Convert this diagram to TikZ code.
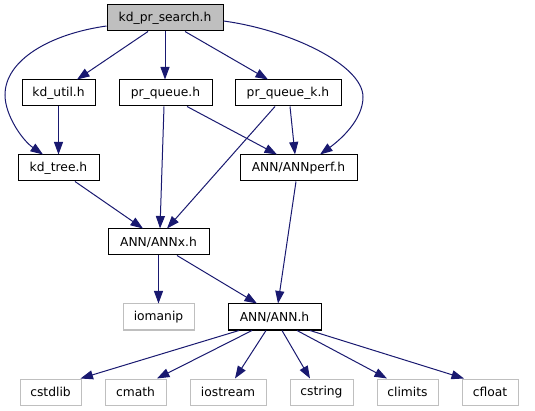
\documentclass[tikz,border=0pt]{standalone}
\usepackage{fontspec}
\setmainfont{DejaVu Sans}
\usetikzlibrary{arrows.meta}
\definecolor{edgeblue}{HTML}{191970}
\definecolor{extgray}{HTML}{BFBFBF}
\begin{document}
\begin{tikzpicture}[x=1pt,y=-1pt,
  box/.style={draw=black,line width=1pt,fill=white,inner sep=0pt,minimum height=26pt,font=\fontsize{12.3}{14}\selectfont},
  mainbox/.style={box,fill=extgray},
  extbox/.style={box,draw=extgray},
  edge/.style={draw=edgeblue,line width=1pt,-{Triangle[length=12.5pt,width=9pt]}}]
\useasboundingbox (0,0) rectangle (535,411);
\node[mainbox,minimum width=116pt] (kdps) at (165,18) {kd\_pr\_search.h};
\node[box,minimum width=73pt] (kdutil) at (58.5,93) {kd\_util.h};
\node[box,minimum width=93pt] (prq) at (165.5,93) {pr\_queue.h};
\node[box,minimum width=106pt] (prqk) at (288,93) {pr\_queue\_k.h};
\node[box,minimum width=81pt] (kdtree) at (58.5,168) {kd\_tree.h};
\node[box,minimum width=117pt] (annperf) at (298.5,168) {ANN/ANNperf.h};
\node[box,minimum width=101pt] (annx) at (158.5,242) {ANN/ANNx.h};
\node[extbox,minimum width=71pt] (iomanip) at (158.5,317) {iomanip};
\node[box,minimum width=93pt] (annh) at (274.5,317) {ANN/ANN.h};
\node[extbox,minimum width=61pt] (cstdlib) at (50.5,392) {cstdlib};
\node[extbox,minimum width=61pt] (cmath) at (135.5,392) {cmath};
\node[extbox,minimum width=76pt] (iostream) at (228,392) {iostream};
\node[extbox,minimum width=63pt] (cstring) at (321.5,392) {cstring};
\node[extbox,minimum width=61pt] (climits) at (407.5,392) {climits};
\node[extbox,minimum width=56pt] (cfloat) at (490,392) {cfloat};

\draw[edge] ([xshift=-17pt]kdps.south) -- ([xshift=18.5pt]kdutil.north);
\draw[edge] (kdps.south) -- (kdps.south |- prq.north);
\draw[edge] ([xshift=20pt]kdps.south) -- ([xshift=-20pt]prqk.north);
\draw[edge] (kdutil.south) -- (kdtree.north);
\draw[edge] ([yshift=-8pt]kdps.west) .. controls (50,34) and (5,60) .. (5,95)
  .. controls (5,115) and (22,140) .. ([xshift=-15.5pt]kdtree.north);
\draw[edge] ([yshift=-3pt]kdps.east) .. controls (290,30) and (363,65) .. (363,97)
  .. controls (363,120) and (340,140) .. ([xshift=21.5pt]annperf.north);
\draw[edge] ([xshift=-1.5pt]prq.south) -- ([xshift=1.5pt]annx.north);
\draw[edge] ([xshift=21.5pt]prq.south) -- ([xshift=-21.5pt]annperf.north);
\draw[edge] ([xshift=-13pt]prqk.south) -- ([xshift=8.5pt]annx.north);
\draw[edge] ([xshift=2pt]prqk.south) -- ([xshift=-3.5pt]annperf.north);
\draw[edge] ([xshift=16.5pt]kdtree.south) -- ([xshift=-15.5pt]annx.north);
\draw[edge] ([xshift=-2.5pt]annperf.south) -- ([xshift=3.5pt]annh.north);
\draw[edge] (annx.south) -- (iomanip.north);
\draw[edge] ([xshift=18.5pt]annx.south) -- ([xshift=-17.5pt]annh.north);
\draw[edge] ([xshift=-35.5pt]annh.south) -- ([xshift=30pt]cstdlib.north);
\draw[edge] ([xshift=-22.5pt]annh.south) -- ([xshift=21.5pt]cmath.north);
\draw[edge] ([xshift=-8.5pt]annh.south) -- ([xshift=7pt]iostream.north);
\draw[edge] ([xshift=7.5pt]annh.south) -- ([xshift=-11.5pt]cstring.north);
\draw[edge] ([xshift=22.5pt]annh.south) -- ([xshift=-20.5pt]climits.north);
\draw[edge] ([xshift=35.5pt]annh.south) -- ([xshift=-26pt]cfloat.north);
\end{tikzpicture}
\end{document}
